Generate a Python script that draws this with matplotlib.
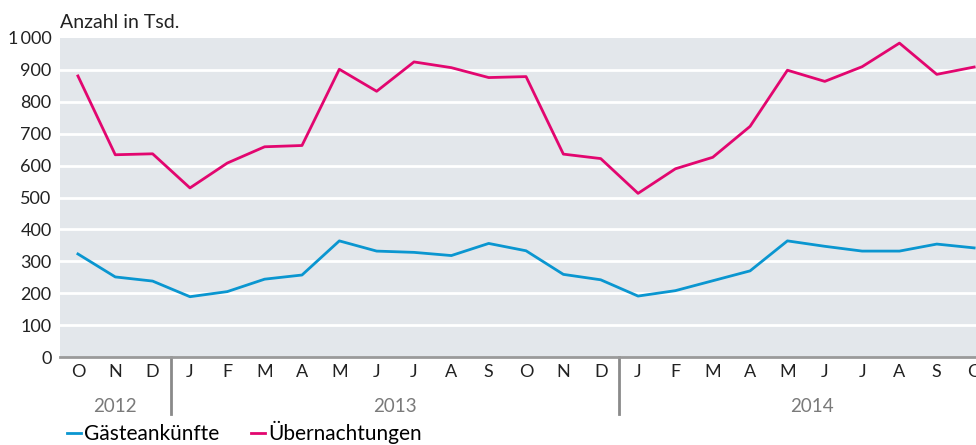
import numpy as np
import matplotlib
matplotlib.use("Agg")
import matplotlib.pyplot as plt
import matplotlib.transforms as mtransforms

plt.rcParams['font.family'] = ['Lato', 'DejaVu Sans']

# ===================== Daten =====================
monate = ['O', 'N', 'D',
          'J', 'F', 'M', 'A', 'M', 'J', 'J', 'A', 'S', 'O', 'N', 'D',
          'J', 'F', 'M', 'A', 'M', 'J', 'J', 'A', 'S', 'O']
jahre = ['2012', '2013', '2014']
jahr_mitte = [1.0, 8.5, 19.65]
jahr_grenzen = [2.5, 14.5]

gaesteankuenfte = [323, 251, 238, 189, 205, 244, 257, 364, 332, 328, 318, 356, 333,
                   259, 242, 191, 208, 239, 270, 364, 347, 332, 332, 354, 342]
uebernachtungen = [881, 634, 637, 530, 608, 659, 663, 902, 833, 925, 907, 876, 879,
                   636, 622, 513, 590, 626, 723, 899, 864, 910, 984, 886, 909]

y_ticks = [0, 100, 200, 300, 400, 500, 600, 700, 800, 900, 1000]
y_labels = ['0', '100', '200', '300', '400', '500', '600', '700', '800', '900', '1\u2009000']

# ===================== Farben =====================
BLAU = '#0a96d0'
PINK = '#e2066f'
HG = '#e3e7eb'

fig = plt.figure(figsize=(9.76, 4.45), dpi=100)
ax = fig.add_axes([60 / 976, 1 - 357 / 445, 916 / 976, 319 / 445])
ax.set_facecolor(HG)

x = np.arange(len(monate))
l1, = ax.plot(x, gaesteankuenfte, color=BLAU, linewidth=2.0, label='Gästeankünfte')
l2, = ax.plot(x, uebernachtungen, color=PINK, linewidth=2.0, label='Übernachtungen')

ax.set_xlim(-0.48, 24.05)
ax.set_ylim(0, 1000)
ax.set_yticks(y_ticks)
ax.set_yticklabels(y_labels, fontsize=13, color='#222222')
ax.set_xticks(x)
ax.set_xticklabels(monate, fontsize=13, color='#222222')
ax.tick_params(axis='both', length=0)
ax.tick_params(axis='y', pad=6)
ax.tick_params(axis='x', pad=5)

for v in y_ticks[1:-1]:
    ax.axhline(v, color='white', linewidth=2.0, zorder=1)

for s in ['top', 'right', 'left']:
    ax.spines[s].set_visible(False)
ax.spines['bottom'].set_color('#9a9a9a')
ax.spines['bottom'].set_linewidth(2.0)

# Jahrestrenner und Jahresbeschriftung
trans = mtransforms.blended_transform_factory(ax.transData, ax.transAxes)
for g in jahr_grenzen:
    ax.plot([g, g], [0, -0.18], transform=trans, color='#8a8a8a', linewidth=2.0, clip_on=False)
for j, m in zip(jahre, jahr_mitte):
    ax.text(m, -0.155, j, transform=trans, ha='center', va='center', fontsize=13.5, color='#7a7a7a')

fig.text(60 / 976, 1 - 22 / 445, 'Anzahl in Tsd.', fontsize=14, color='#222222', ha='left', va='center')

fig.legend(handles=[l1, l2], loc='lower left', bbox_to_anchor=(0.049, -0.04), ncol=2,
           frameon=False, fontsize=15, handlelength=0.7, handletextpad=0.15, columnspacing=1.5)

plt.savefig('out.png', dpi=100)
plt.close()
